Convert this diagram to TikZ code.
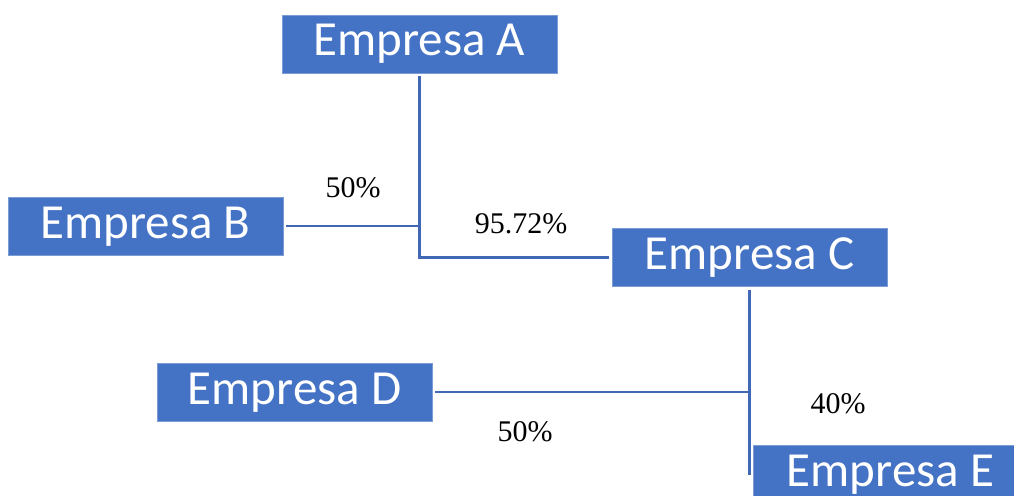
\documentclass[tikz,border=0pt]{standalone}
\usepackage{fontspec}
\setmainfont{Liberation Serif}
\newfontfamily\boxfont{Carlito}
\definecolor{boxblue}{HTML}{4472C4}
\definecolor{lineblue}{HTML}{4068B4}
\begin{document}
\begin{tikzpicture}[x=1pt,y=-1pt,
  company/.style={fill=boxblue,draw=boxblue!70!white,line width=0.6pt,text=white,
    minimum width=275pt,minimum height=58pt,inner sep=0pt,
    font=\boxfont\fontsize{49}{52}\selectfont,text height=31pt,text depth=7pt},
  pct/.style={anchor=base,inner sep=0pt,font=\fontsize{30}{32}\selectfont},
  link/.style={draw=lineblue,line width=2.4pt}]
\useasboundingbox (0,0) rectangle (1014,495);
\node[company] (A) at (419.5,44) {Empresa A};
\node[company] (B) at (145.5,226) {Empresa B};
\node[company] (C) at (749.5,257.5) {Empresa C};
\node[company] (D) at (294.5,392) {Empresa D};
\node[company] (E) at (890.5,474) {Empresa E};
\coordinate (eend) at (749.5,475);
\draw[link,shorten <=3pt,shorten >=3pt] (A.south) |- (C.west);
\draw[link,shorten <=3pt] (B.east) -- (B.east -| A.south);
\draw[link,shorten <=3pt] (C.south) -- (eend);
\draw[link,shorten <=3pt] (D.east) -- (D.east -| C.south);
\node[pct] (p1) at (353,197) {50\%};
\node[pct] (p2) at (521,233) {95.72\%};
\node[pct] (p3) at (838,413) {40\%};
\node[pct] (p4) at (525,441) {50\%};
\end{tikzpicture}
\end{document}
